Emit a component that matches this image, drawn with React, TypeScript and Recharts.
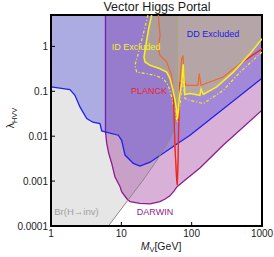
import React from 'react';
import { ComposedChart, Area, Line, XAxis, YAxis, ReferenceArea, ReferenceDot } from 'recharts';

const FONT = '"Liberation Sans", Arial, Helvetica, sans-serif';
const Y_TOP = 5;
const Y_BOTTOM = 0.0001;

const xTicks = [1, 10, 100, 1000];
const xTickLabels = ['1', '10', '100', '1000'];
const yTicks = [0.0001, 0.001, 0.01, 0.1, 1];
const yTickLabels = ['0.0001', '0.001', '0.01', '0.1', '1'];

// Direct detection (DD) excluded boundary (blue)
const ddMass = [1, 1.86, 2.19, 2.58, 3.22, 3.95, 4.97, 5.26, 5.86, 9.06, 10.1, 11.3, 14.8, 18.4, 25.6, 58, 94.7, 1000];
const ddLambda = [0.125, 0.109, 0.0815, 0.0448, 0.0247, 0.0205, 0.0191, 0.0131, 0.0125, 0.0105, 0.0081, 0.0038, 0.00247, 0.00215, 0.00264, 0.0063, 0.0105, 0.195];

// DARWIN projection (purple)
const darwinMass = [5.95, 5.95, 6.2, 6.6, 7.3, 8.1, 9.6, 10.1, 11.9, 13.3, 18.4, 25.6, 35.5, 42, 49, 56, 62, 80, 95, 131, 280, 1000];
const darwinLambda = [5, 0.0125, 0.0069, 0.0042, 0.00247, 0.00125, 0.00075, 0.00058, 0.00041, 0.00035, 0.00032, 0.00031, 0.00035, 0.0004, 0.00047, 0.0006, 0.00075, 0.00105, 0.0013, 0.00195, 0.0063, 0.038];

// Br(H -> inv) bound (gray)
const brMass = [6.53, 10, 20, 30, 40, 50, 55, 58, 60, 61.5, 62.2, 62.5, 62.5];
const brLambda = [0.0001, 0.00024, 0.00101, 0.0025, 0.00505, 0.0093, 0.013, 0.02, 0.03, 0.05, 0.09, 0.2, 5];

// Indirect detection (ID) excluded, solid yellow
const idMass = [27, 24.7, 22.9, 21.0, 21.7, 25.6, 35.5, 44.2, 49.2, 53.7, 58, 61.2, 62.5, 64.6, 66.7, 72.1, 76, 79.5, 94.7, 131, 136, 146.5, 227, 391, 676, 1000];
const idLambda = [5, 2.68, 1.36, 0.578, 0.449, 0.378, 0.319, 0.268, 0.191, 0.115, 0.063, 0.0378, 0.025, 0.0341, 0.0689, 0.161, 0.4, 0.085, 0.089, 0.0815, 0.111, 0.0858, 0.125, 0.268, 0.688, 1.48];

// ID projection, dash-dot yellow
const idProjMass = [23.9, 20.3, 17.4, 15.6, 16.5, 22.9, 30.1, 39.6, 46.5, 51.9, 56.1, 60, 62.5, 65.2, 68.3, 72.1, 75.4, 80.4, 94.7, 146.5, 282, 487, 1000];
const idProjLambda = [5, 1.75, 0.688, 0.378, 0.268, 0.247, 0.227, 0.191, 0.136, 0.0747, 0.0448, 0.0269, 0.0205, 0.0293, 0.0489, 0.125, 0.175, 0.0689, 0.063, 0.0533, 0.105, 0.268, 0.747];

// PLANCK relic curve (orange)
const planckMass = [33.6, 35.5, 33.6, 35.5, 44.2, 51.9, 54.8, 56.1, 58, 61.2, 62.5, 64.1, 65.2, 66.3, 68.3, 72.1, 75.4, 78.9, 83, 123, 128, 136, 282, 487, 1000];
const planckLambda = [5, 1.75, 0.889, 0.631, 0.448, 0.227, 0.0965, 0.0293, 0.0054, 0.00105, 0.00082, 0.0029, 0.0136, 0.0378, 0.161, 0.533, 0.631, 0.175, 0.136, 0.136, 0.247, 0.136, 0.208, 0.413, 0.889];

// PLANCK red parts (resonance dip and heavy-mass tail)
const planckDipMass = [54.8, 56.1, 58, 61.2, 62.5, 64.1, 65.2, 66.3, 68.3];
const planckDipLambda = [0.0965, 0.0293, 0.0054, 0.00105, 0.00082, 0.0029, 0.0136, 0.0378, 0.161];
const planckTailMass = [487, 1000];
const planckTailLambda = [0.413, 0.889];

const toLine = (ms: number[], ls: number[]) => ms.map((m, i) => ({ m, l: ls[i] }));
const toUpper = (ms: number[], ls: number[]) => ms.map((m, i) => ({ m, r: [ls[i], Y_TOP] }));

const grayRegion = [{ m: 1, r: [Y_BOTTOM, Y_TOP] }, ...toUpper(brMass, brLambda)];
const ddRegion = toUpper(ddMass, ddLambda);
const darwinRegion = [{ m: darwinMass[0], r: [Y_TOP, Y_TOP] }, ...toUpper(darwinMass.slice(1), darwinLambda.slice(1))];
const idRegion = toUpper(idMass, idLambda);

const C_BLUE = '#2020e8';
const C_PURPLE = '#8e1c8e';
const C_GRAY = '#8a8a8a';
const C_YELLOW = '#f4f01e';
const C_ORANGE = '#f0672a';
const C_RED = '#ee2424';

const fmtX = (v: number) => xTickLabels[xTicks.indexOf(v)] ?? String(v);
const fmtY = (v: number) => yTickLabels[yTicks.indexOf(v)] ?? String(v);

const XTitle = () => (
  <text x={161} y={250} textAnchor="middle" fontSize={10.5} fill="#222" fontFamily={FONT}>
    <tspan fontStyle="italic">M</tspan>
    <tspan fontSize={7.5} dy={2}>V</tspan>
    <tspan dy={-2}>[GeV]</tspan>
  </text>
);

const YTitle = () => (
  <text transform="translate(14,118) rotate(-90)" textAnchor="middle" fontSize={10.5} fill="#222" fontFamily={FONT}>
    <tspan>λ</tspan>
    <tspan fontSize={7.5} dy={2.5}>HVV</tspan>
  </text>
);

export default function App() {
  return (
    <div style={{ position: 'absolute', left: 0, top: 0, width: 274, height: 257, background: '#fff' }}>
      <ComposedChart width={274} height={257} margin={{ top: 15, right: 12, bottom: 0, left: 0 }} style={{ fontFamily: FONT }}>
        <XAxis
          type="number"
          dataKey="m"
          scale="log"
          domain={[1, 1000]}
          ticks={xTicks}
          interval={0}
          allowDataOverflow
          tickFormatter={fmtX}
          tick={{ fontSize: 10, fill: '#222' }}
          tickSize={-4}
          tickMargin={8}
          axisLine={false}
          tickLine={{ stroke: '#000' }}
          height={31}
          label={<XTitle />}
        />
        <YAxis
          type="number"
          scale="log"
          domain={[Y_BOTTOM, Y_TOP]}
          ticks={yTicks}
          interval={0}
          allowDataOverflow
          tickFormatter={fmtY}
          tick={{ fontSize: 10, fill: '#222' }}
          tickSize={-4}
          tickMargin={7}
          axisLine={false}
          tickLine={{ stroke: '#000' }}
          width={51}
          label={<YTitle />}
        />

        <Area data={grayRegion} dataKey="r" type="linear" stroke="none" fill="#e6e6e6" fillOpacity={1} isAnimationActive={false} dot={false} activeDot={false} />
        <Area data={darwinRegion} dataKey="r" type="linear" stroke="none" fill="rgb(144,29,144)" fillOpacity={0.35} isAnimationActive={false} dot={false} activeDot={false} />
        <Area data={toLine(darwinMass, darwinLambda)} dataKey="l" type="linear" stroke={C_PURPLE} strokeWidth={1.3} fill="none" isAnimationActive={false} dot={false} activeDot={false} />
        <Area data={ddRegion} dataKey="r" type="linear" stroke="none" fill="rgb(40,40,220)" fillOpacity={0.3} isAnimationActive={false} dot={false} activeDot={false} />
        <Area data={toLine(ddMass, ddLambda)} dataKey="l" type="linear" stroke={C_BLUE} strokeWidth={1.3} fill="none" isAnimationActive={false} dot={false} activeDot={false} />
        <Area data={toLine(brMass, brLambda)} dataKey="l" type="linear" stroke={C_GRAY} strokeWidth={1} fill="none" isAnimationActive={false} dot={false} activeDot={false} />
        <Area data={idRegion} dataKey="r" type="linear" stroke="none" fill="rgb(210,210,90)" fillOpacity={0.4} isAnimationActive={false} dot={false} activeDot={false} />

        <Line data={toLine(idProjMass, idProjLambda)} dataKey="l" type="linear" stroke={C_YELLOW} strokeWidth={1.2} strokeDasharray="3 2 1 2" dot={false} activeDot={false} isAnimationActive={false} />
        <Line data={toLine(planckMass, planckLambda)} dataKey="l" type="linear" stroke={C_ORANGE} strokeWidth={1.2} dot={false} activeDot={false} isAnimationActive={false} />
        <Line data={toLine(planckDipMass, planckDipLambda)} dataKey="l" type="linear" stroke={C_RED} strokeWidth={1.2} dot={false} activeDot={false} isAnimationActive={false} />
        <Line data={toLine(planckTailMass, planckTailLambda)} dataKey="l" type="linear" stroke={C_RED} strokeWidth={1.2} dot={false} activeDot={false} isAnimationActive={false} />
        <Line data={toLine(idMass, idLambda)} dataKey="l" type="linear" stroke={C_YELLOW} strokeWidth={1.6} dot={false} activeDot={false} isAnimationActive={false} />

        <ReferenceArea x1={1} x2={1000} y1={Y_BOTTOM} y2={Y_TOP} fill="none" stroke="#000" strokeWidth={2} ifOverflow="visible" />

        <ReferenceDot x={32.1} y={Y_TOP} r={0} fill="none" stroke="none" ifOverflow="visible"
          label={{ value: 'Vector Higgs Portal', position: 'top', offset: 4, fontSize: 12.5, fill: '#1a1a1a' }} />
        <ReferenceDot x={16.2} y={0.975} r={0} fill="none" stroke="none" ifOverflow="visible"
          label={{ value: 'ID Excluded', position: 'center', fontSize: 9, fill: C_YELLOW }} />
        <ReferenceDot x={201} y={1.95} r={0} fill="none" stroke="none" ifOverflow="visible"
          label={{ value: 'DD Excluded', position: 'center', fontSize: 9, fill: C_BLUE }} />
        <ReferenceDot x={24.7} y={0.1} r={0} fill="none" stroke="none" ifOverflow="visible"
          label={{ value: 'PLANCK', position: 'center', fontSize: 9, fill: C_RED }} />
        <ReferenceDot x={30.1} y={0.00021} r={0} fill="none" stroke="none" ifOverflow="visible"
          label={{ value: 'DARWIN', position: 'center', fontSize: 9, fill: C_PURPLE }} />
        <ReferenceDot x={2.3} y={0.00021} r={0} fill="none" stroke="none" ifOverflow="visible"
          label={{ value: 'Br(H→inv)', position: 'center', fontSize: 9.5, fill: '#a0a0a0' }} />
      </ComposedChart>
    </div>
  );
}
